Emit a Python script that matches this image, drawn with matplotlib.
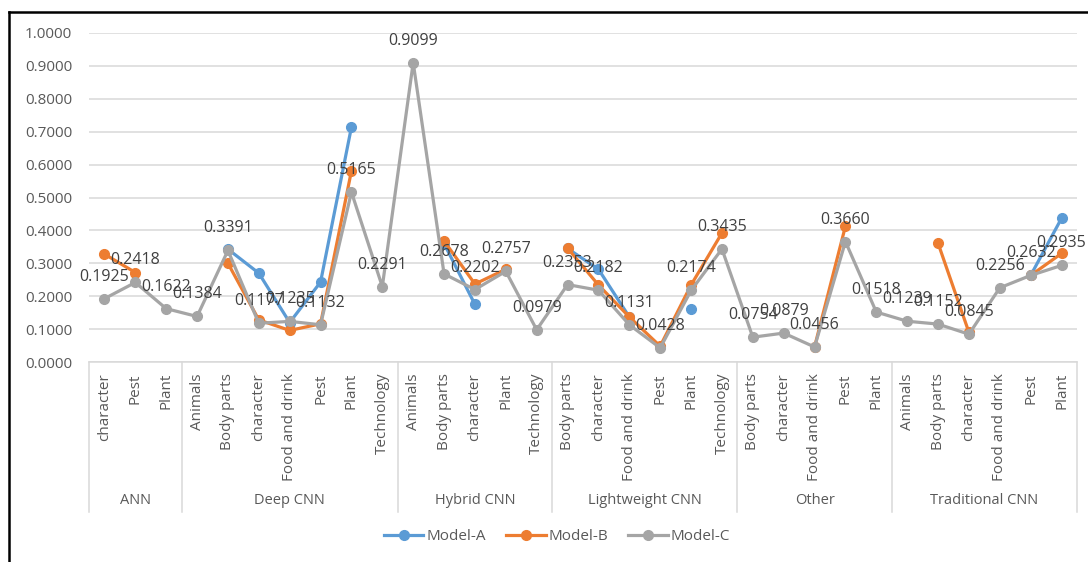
import numpy as np
import matplotlib
matplotlib.use("Agg")
import matplotlib.pyplot as plt
from matplotlib.lines import Line2D
from matplotlib.transforms import blended_transform_factory

plt.rcParams["font.family"] = ["Open Sans", "DejaVu Sans"]

# Category hierarchy: outer groups and their inner categories
groups = ["ANN", "Deep CNN", "Hybrid CNN", "Lightweight CNN", "Other", "Traditional CNN"]
group_categories = [
    ["character", "Pest", "Plant"],
    ["Animals", "Body parts", "character", "Food and drink", "Pest", "Plant", "Technology"],
    ["Animals", "Body parts", "character", "Plant", "Technology"],
    ["Body parts", "character", "Food and drink", "Pest", "Plant", "Technology"],
    ["Body parts", "character", "Food and drink", "Pest", "Plant"],
    ["Animals", "Body parts", "character", "Food and drink", "Pest", "Plant"],
]

nan = np.nan
model_a = [nan, nan, nan,
           nan, 0.343, 0.270, 0.120, 0.243, 0.714, nan,
           nan, 0.360, 0.175, nan, nan,
           0.345, 0.282, 0.137, nan, 0.160, nan,
           nan, nan, nan, nan, nan,
           nan, nan, nan, nan, 0.2632, 0.437]
model_b = [0.328, 0.272, nan,
           nan, 0.300, 0.128, 0.096, 0.116, 0.581, nan,
           nan, 0.368, 0.237, 0.282, nan,
           0.346, 0.234, 0.137, 0.048, 0.234, 0.392,
           nan, nan, 0.046, 0.413, nan,
           nan, 0.361, 0.090, nan, 0.2632, 0.330]
model_c = [0.1925, 0.2418, 0.1622,
           0.1384, 0.3391, 0.1177, 0.1235, 0.1132, 0.5165, 0.2291,
           0.9099, 0.2678, 0.2202, 0.2757, 0.0979,
           0.2353, 0.2182, 0.1131, 0.0428, 0.2174, 0.3435,
           0.0754, 0.0879, 0.0456, 0.3660, 0.1518,
           0.1239, 0.1152, 0.0845, 0.2256, 0.2632, 0.2935]

series = [("Model-A", model_a, "#5B9BD5"),
          ("Model-B", model_b, "#ED7D31"),
          ("Model-C", model_c, "#A5A5A5")]

W, H = 1088, 562
fig = plt.figure(figsize=(W / 100, H / 100), dpi=100)
fig.patch.set_facecolor("white")

ax_left, ax_right, ax_top, ax_bottom = 89, 1077, 33, 362
ax = fig.add_axes([ax_left / W, 1 - ax_bottom / H,
                   (ax_right - ax_left) / W, (ax_bottom - ax_top) / H])

categories = [c for cats in group_categories for c in cats]
x = np.arange(len(categories))

for i, (name, vals, color) in enumerate(series):
    ax.plot(x, np.array(vals, dtype=float), color=color, lw=2.3, marker="o",
            markersize=7, label=name, zorder=3 + i, clip_on=False)

# Value labels for Model-C
for xi, v in zip(x, model_c):
    ax.annotate(f"{v:.4f}", (xi, v), xytext=(0, 22), textcoords="offset pixels",
                ha="center", va="center", fontsize=11.5, color="#404040", zorder=10)

ax.set_xlim(-0.5, len(categories) - 0.5)
ax.set_ylim(0, 1.0)
ax.set_yticks(np.arange(0, 1.01, 0.1))
ax.set_yticklabels([f"{t:.4f}" for t in np.arange(0, 1.01, 0.1)])
ax.tick_params(axis="y", length=0, pad=12, labelsize=11, labelcolor="#595959")
ax.set_xticks([])
ax.yaxis.grid(True, color="#D9D9D9", lw=1.1)
ax.set_axisbelow(True)
for s in ax.spines.values():
    s.set_visible(False)

# Multi-level category axis
axh = ax_bottom - ax_top
def ypix(py):
    return (ax_bottom - py) / axh

trans = blended_transform_factory(ax.transData, ax.transAxes)
ax.plot([-0.5, len(categories) - 0.5], [0, 0], transform=trans, color="#D9D9D9",
        lw=1.1, clip_on=False, zorder=1)
for xi, cat in zip(x, categories):
    ax.text(xi, ypix(373), cat, transform=trans, rotation=90, ha="center", va="top",
            fontsize=11, color="#595959")

start = 0
bounds = [-0.5]
for g, cats in zip(groups, group_categories):
    n = len(cats)
    center = start + (n - 1) / 2
    ax.text(center, ypix(500), g, transform=trans, ha="center", va="center",
            fontsize=10.5, color="#595959")
    start += n
    bounds.append(start - 0.5)
for b in bounds:
    ax.plot([b, b], [0, ypix(512)], transform=trans, color="#D9D9D9", lw=1.1,
            clip_on=False)

# Legend
handles = [Line2D([], [], color=c, lw=2.3, marker="o", markersize=7) for _, _, c in series]
fig.legend(handles, [n for n, _, _ in series], loc="center",
           bbox_to_anchor=(557 / W, 1 - 537 / H), ncol=3, frameon=False,
           fontsize=11, handlelength=2.6, handletextpad=0.2, columnspacing=1.3,
           labelcolor="#595959")

# Chart-area border
fig.add_artist(Line2D([8.7 / W, 8.7 / W], [0, 1 - 12 / H], color="black", lw=1.8,
                      transform=fig.transFigure))
fig.add_artist(Line2D([8.7 / W, 1], [1 - 12 / H, 1 - 12 / H], color="black", lw=1.8,
                      transform=fig.transFigure))

fig.savefig("out.png", dpi=100, facecolor="white")
